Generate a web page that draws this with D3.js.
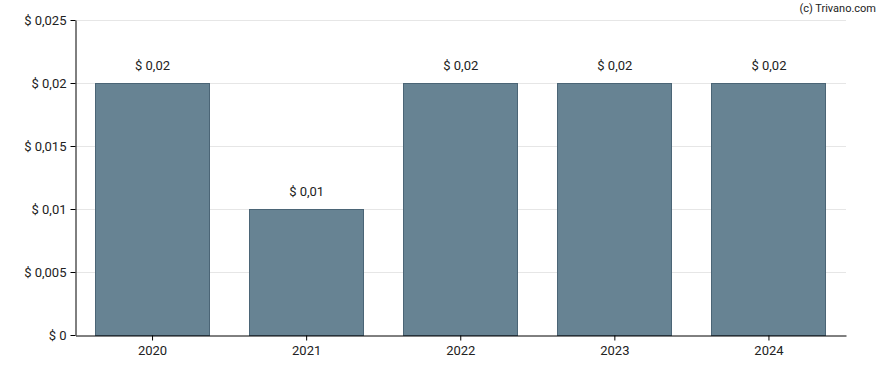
<!DOCTYPE html>
<html><head><meta charset="utf-8">
<script src="https://cdn.jsdelivr.net/npm/d3@7"></script>
<style>body{margin:0;background:#fff;} text{font-family:Roboto, "Noto Sans", sans-serif;}</style>
</head><body><svg id="c" width="888" height="370"></svg>
<script>
const categories = ["2020","2021","2022","2023","2024"];
const values = [0.02, 0.01, 0.02, 0.02, 0.02];
const valueLabels = ["$ 0,02","$ 0,01","$ 0,02","$ 0,02","$ 0,02"];
const yTicks = [0, 0.005, 0.01, 0.015, 0.02, 0.025];
const yTickLabels = ["$ 0","$ 0,005","$ 0,01","$ 0,015","$ 0,02","$ 0,025"];

const svg = d3.select("#c");
const m = {l:75.5, r:846, t:20, b:335};
const x = d3.scaleBand().domain(categories).range([m.l, m.r]).paddingInner(0.26).paddingOuter(0.13);
const y = d3.scaleLinear().domain([0, 0.025]).range([m.b, m.t]);

svg.append("g").selectAll("line").data(yTicks.slice(1)).join("line")
  .attr("x1", m.l).attr("x2", m.r).attr("y1", d=>Math.round(y(d))+0.5).attr("y2", d=>Math.round(y(d))+0.5)
  .attr("stroke", "#e6e6e6").attr("stroke-width", 1);

svg.append("g").selectAll("rect").data(values).join("rect")
  .attr("x", (d,i)=>Math.floor(x(categories[i]))+0.5)
  .attr("width", Math.round(x.bandwidth()))
  .attr("y", d=>Math.round(y(d))+0.5)
  .attr("height", d=>Math.round(y(0))-Math.round(y(d)))
  .attr("fill", "#678393").attr("stroke", "#4b6576").attr("stroke-width", 1);

svg.append("g").selectAll("text").data(values).join("text")
  .attr("x", (d,i)=>x(categories[i])+x.bandwidth()/2)
  .attr("y", d=>y(d)-13)
  .attr("text-anchor","middle").attr("font-size", 13).attr("fill","#222")
  .text((d,i)=>valueLabels[i]);

const yAxis = d3.axisLeft(y).tickValues(yTicks).tickFormat((d,i)=>yTickLabels[i]).tickSize(5).tickSizeOuter(0);
const gy = svg.append("g").attr("transform", `translate(${m.l},0)`).call(yAxis);
gy.select(".domain").attr("stroke","#000");
gy.selectAll(".tick line").attr("stroke","#000");
gy.selectAll("text").attr("font-size",13).attr("fill","#222").attr("font-family","Roboto, sans-serif").attr("dx", -1);

const xAxis = d3.axisBottom(x).tickSize(5).tickSizeOuter(0);
const gx = svg.append("g").attr("transform", `translate(0,${m.b+0.5})`).call(xAxis);
gx.select(".domain").attr("stroke","#000");
gx.selectAll(".tick line").attr("stroke","#000");
gx.selectAll("text").attr("font-size",13).attr("fill","#222").attr("font-family","Roboto, sans-serif").attr("dy","0.9em");

svg.append("text").attr("x", 876).attr("y", 12).attr("text-anchor","end")
  .attr("font-size", 11).attr("fill","#222").text("(c) Trivano.com");
</script></body></html>
